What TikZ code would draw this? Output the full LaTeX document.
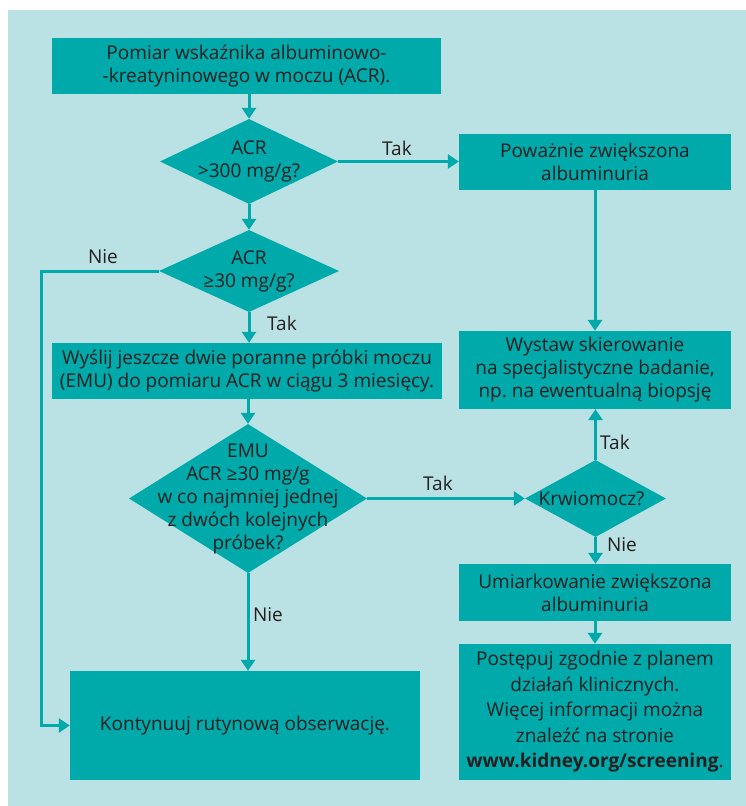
\documentclass[tikz,border=0pt]{standalone}
\usepackage{fontspec}
\setmainfont{Open Sans}
\usepackage{xcolor}
\usetikzlibrary{arrows.meta, positioning, shapes.geometric}
\definecolor{kteal}{HTML}{00A9AA}
\definecolor{kbg}{HTML}{BAE1E3}
\definecolor{ktext}{HTML}{231F20}

\tikzset{
  box/.style={fill=kteal, text=ktext, align=center, inner sep=0pt,
    font=\fontsize{19}{23}\selectfont},
  dia/.style={diamond, fill=kteal, inner sep=0pt},
  diatext/.style={text=ktext, align=center, inner sep=0pt,
    font=\fontsize{19}{23}\selectfont},
  flow/.style={draw=kteal, line width=3pt, -{Triangle[width=14pt, length=11pt]}},
  lbl/.style={text=ktext, font=\fontsize{19}{20}\selectfont, inner sep=0pt}
}

\begin{document}
\begin{tikzpicture}[x=1pt, y=-1pt]
\useasboundingbox (0,0) rectangle (746,806);
\fill[kbg] (8,10) rectangle (746,806);
% left column
\node[box, minimum width=389pt, minimum height=56pt] (pomiar) at (246.5,66)
  {Pomiar wskaźnika albuminowo-\\-kreatyninowego w moczu (ACR).};
\node[dia, minimum width=178pt, minimum height=85pt] (acrA) at (249,161.5) {};
\node[diatext] at (acrA) {ACR\\>300 mg/g?};
\node[dia, minimum width=180pt, minimum height=82pt] (acrB) at (249,271) {};
\node[diatext] at (acrB) {ACR\\≥30 mg/g?};
\node[box, minimum width=390pt, minimum height=56pt] (wyslij) at (247,371)
  {Wyślij jeszcze dwie poranne próbki moczu\\(EMU) do pomiaru ACR w ciągu 3 miesięcy.};
\node[dia, minimum width=238pt, minimum height=149pt] (emu) at (248,498.5) {};
\node[diatext] at (emu)
  {EMU\\ACR ≥30 mg/g\\w co najmniej jednej\\z dwóch kolejnych\\próbek?};
\node[box, minimum width=350pt, minimum height=109pt] (kont) at (245,725.5)
  {Kontynuuj rutynową obserwację.};
% right column
\node[box, minimum width=272pt, minimum height=56pt] (powaz) at (595,162)
  {Poważnie zwiększona\\albuminuria};
\node[box, minimum width=272pt, minimum height=78pt] (wystaw) at (595,370)
  {Wystaw skierowanie\\na specjalistyczne badanie,\\np.\ na ewentualną biopsję};
\node[dia, minimum width=141pt, minimum height=77pt] (krw) at (595.5,498.5) {};
\node[diatext] at ([xshift=-4pt]krw) {Krwiomocz?};
\node[box, minimum width=272pt, minimum height=57pt] (umiar) at (595,592.5)
  {Umiarkowanie zwiększona\\albuminuria};
\node[box, minimum width=272pt, minimum height=136pt,
  font=\fontsize{19}{25.5}\selectfont] (postep) at (595,712)
  {Postępuj zgodnie z planem\\działań klinicznych.\\Więcej informacji można\\znaleźć na stronie\\\textbf{www.kidney.org/screening}.};
% connectors
\coordinate (bend) at (41,271);
\draw[flow] (acrA.north |- pomiar.south) -- (acrA.north);
\draw[flow] (acrA.east) -- (acrA.east -| powaz.west);
\draw[flow] (acrA.south) -- (acrB.north);
\draw[flow] (acrB.west) -- (bend) |- (kont.west);
\draw[flow] (acrB.south) -- (acrB.south |- wyslij.north);
\draw[flow] (emu.north |- wyslij.south) -- (emu.north);
\draw[flow] (emu.east) -- (krw.west);
\draw[flow] (emu.south) -- (emu.south |- kont.north);
\draw[flow] (powaz.south) -- (wystaw.north);
\draw[flow] (krw.north) -- (krw.north |- wystaw.south);
\draw[flow] (krw.south) -- (krw.south |- umiar.north);
\draw[flow] (umiar.south) -- (postep.north);
% labels
\node[lbl] (takA) at (397,148) {Tak};
\node[lbl] (nieB) at (103,257) {Nie};
\node[lbl] (takB) at (282,323) {Tak};
\node[lbl] (takE) at (438,483) {Tak};
\node[lbl] (takK) at (615,442) {Tak};
\node[lbl] (nieK) at (622,545) {Nie};
\node[lbl] (nieE) at (268,615) {Nie};
\end{tikzpicture}
\end{document}
